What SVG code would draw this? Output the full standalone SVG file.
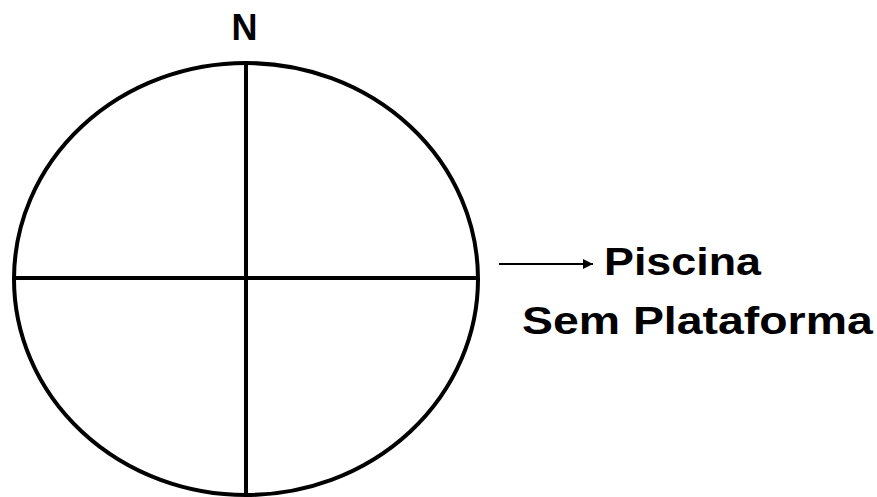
<svg xmlns="http://www.w3.org/2000/svg" width="877" height="497" viewBox="0 0 877 497">
  <defs>
    <style>
      .ln { stroke: #000; stroke-width: 4; fill: none; }
      .lbl { font-family: "Liberation Sans", Arial, sans-serif; font-weight: bold; font-size: 39px; fill: #000; }
    </style>
    <marker id="ah" viewBox="0 0 10 10" refX="10" refY="5" markerWidth="6" markerHeight="5" markerUnits="strokeWidth" orient="auto">
      <path d="M0,0 L10,5 L0,10 z" fill="#000"/>
    </marker>
  </defs>
  <rect width="877" height="497" fill="#fff"/>
  <g id="circle">
    <ellipse class="ln" cx="246" cy="279" rx="232" ry="216"/>
    <line class="ln" x1="246" y1="63" x2="246" y2="497"/>
    <line class="ln" x1="14" y1="278" x2="478" y2="278"/>
  </g>
  <g id="north">
    <text class="lbl" x="244.5" y="40" text-anchor="middle" style="font-size:36px">N</text>
  </g>
  <g id="connectors">
    <line x1="499" y1="264" x2="593" y2="264" stroke="#000" stroke-width="2" marker-end="url(#ah)"/>
  </g>
  <g id="label">
    <text class="lbl" transform="translate(604,275) scale(1.15,1)">Piscina</text>
    <text class="lbl" transform="translate(522,334) scale(1.19,1)">Sem Plataforma</text>
  </g>
</svg>
